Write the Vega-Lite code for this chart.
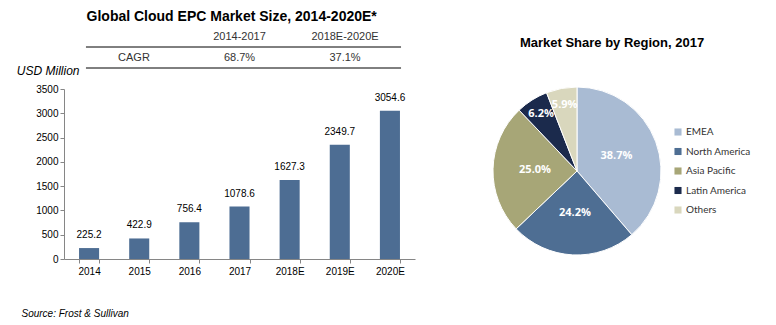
{
  "$schema": "https://vega.github.io/schema/vega-lite/v6.json",
  "padding": {"left": 16, "top": 10, "right": 5, "bottom": 2},
  "background": "#ffffff",
  "config": {"view": {"stroke": null}, "font": "Liberation Sans"},
  "center": true,
  "spacing": 76,
  "resolve": {"legend": {"color": "independent"}},
  "hconcat": [
    {
      "title": {"text": "Global Cloud EPC Market Size, 2014-2020E*", "fontSize": 14, "fontWeight": "bold", "color": "#000000", "anchor": "middle", "dx": 16, "offset": 2},
      "spacing": -5,
      "vconcat": [
        {
          "width": 351,
          "height": 42,
          "data": {"values": [
            {"row": "head", "col": "c1", "text": "2014-2017"},
            {"row": "head", "col": "c2", "text": "2018E-2020E"},
            {"row": "cagr", "col": "c0", "text": "CAGR"},
            {"row": "cagr", "col": "c1", "text": "68.7%"},
            {"row": "cagr", "col": "c2", "text": "37.1%"}
          ]},
          "encoding": {
            "x": {"field": "col", "type": "nominal", "scale": {"type": "point", "domain": ["c0", "c1", "c2"], "padding": 0.663}, "axis": null},
            "y": {"field": "row", "type": "nominal", "scale": {"type": "band", "domain": ["head", "cagr"], "paddingInner": 0, "paddingOuter": 0}, "axis": null}
          },
          "layer": [
            {
              "mark": {"type": "text", "fontSize": 11, "color": "#333333", "baseline": "middle"},
              "encoding": {"text": {"field": "text"}}
            },
            {
              "data": {"values": [{"row": "cagr", "from": "c0", "to": "c2"}]},
              "mark": {"type": "rule", "color": "#000000", "strokeWidth": 1, "xOffset": -48, "x2Offset": 56},
              "encoding": {
                "x": {"field": "from", "type": "nominal"},
                "x2": {"field": "to"},
                "y": {"field": "row", "type": "nominal", "bandPosition": 0}
              }
            },
            {
              "data": {"values": [{"row": "cagr", "from": "c0", "to": "c2"}]},
              "mark": {"type": "rule", "color": "#000000", "strokeWidth": 1, "xOffset": -48, "x2Offset": 56},
              "encoding": {
                "x": {"field": "from", "type": "nominal"},
                "x2": {"field": "to"},
                "y": {"field": "row", "type": "nominal", "bandPosition": 1}
              }
            }
          ]
        },
        {
          "width": 351,
          "height": 170,
          "data": {"values": [
            {"year": "2014", "value": 225.2},
            {"year": "2015", "value": 422.9},
            {"year": "2016", "value": 756.4},
            {"year": "2017", "value": 1078.6},
            {"year": "2018E", "value": 1627.3},
            {"year": "2019E", "value": 2349.7},
            {"year": "2020E", "value": 3054.6}
          ]},
          "encoding": {
            "x": {"field": "year", "type": "ordinal", "scale": {"paddingInner": 0.6, "paddingOuter": 0.3},
              "axis": {"title": "Source: Frost & Sullivan", "titleAlign": "left", "titleAnchor": "start", "titleX": -43, "titleY": 54, "titleBaseline": "middle", "titleFontStyle": "italic", "titleFontWeight": "normal", "titleFontSize": 10, "titleColor": "#000000", "labelAngle": 0, "tickBand": "extent", "domainColor": "#868686", "tickColor": "#868686", "tickSize": 4, "labelFontSize": 10, "labelColor": "#000000", "labelPadding": 3}},
            "y": {"field": "value", "type": "quantitative", "scale": {"domain": [0, 3500], "nice": false},
              "axis": {"values": [0, 500, 1000, 1500, 2000, 2500, 3000, 3500], "format": "d", "grid": false, "title": "USD Million", "titleAngle": 0, "titleAlign": "right", "titleBaseline": "middle", "titleX": 15, "titleY": -18.5, "titleFontStyle": "italic", "titleFontWeight": "normal", "titleFontSize": 12, "titleColor": "#000000", "domainColor": "#868686", "tickColor": "#868686", "tickSize": 4, "labelFontSize": 10, "labelColor": "#000000", "labelPadding": 2}}
          },
          "layer": [
            {"mark": {"type": "bar", "color": "#4d6d93"}},
            {"mark": {"type": "text", "baseline": "bottom", "dy": -8, "fontSize": 10, "color": "#000000"},
              "encoding": {"text": {"field": "value", "type": "quantitative", "format": ".1f"}}}
          ]
        }
      ]
    },
    {
      "width": 168,
      "height": 168,
      "title": {"text": "Market Share by Region, 2017", "fontSize": 13, "fontWeight": "bold", "color": "#000000", "anchor": "middle", "dx": 35, "offset": 35},
      "data": {"values": [
        {"region": "EMEA", "share": 0.387, "rank": 1},
        {"region": "North America", "share": 0.242, "rank": 2},
        {"region": "Asia Pacific", "share": 0.25, "rank": 3},
        {"region": "Latin America", "share": 0.062, "rank": 4},
        {"region": "Others", "share": 0.059, "rank": 5}
      ]},
      "encoding": {
        "theta": {"field": "share", "type": "quantitative", "stack": true},
        "order": {"field": "rank", "type": "quantitative"}
      },
      "layer": [
        {
          "mark": {"type": "arc", "outerRadius": 84, "stroke": "#ffffff", "strokeWidth": 1},
          "encoding": {
            "color": {"field": "region", "type": "nominal",
              "scale": {"domain": ["EMEA", "North America", "Asia Pacific", "Latin America", "Others"], "range": ["#a9bbd3", "#4e6e93", "#a7a677", "#1b2a4c", "#d9d7bd"]},
              "legend": {"title": null, "orient": "none", "legendX": 180, "legendY": 40, "symbolType": "square", "symbolSize": 50, "symbolStrokeWidth": 0, "labelFontSize": 10, "labelFont": "Lato", "labelColor": "#333333", "rowPadding": 9.5, "labelOffset": 3, "padding": 0}}
          }
        },
        {
          "mark": {"type": "text", "radius": 42, "fill": "#ffffff", "font": "Open Sans", "fontWeight": "bold", "fontSize": 11},
          "encoding": {"text": {"condition": {"test": "datum.share > 0.1", "field": "share", "type": "quantitative", "format": ".1%"}, "value": ""}}
        },
        {
          "mark": {"type": "text", "radius": 67, "fill": "#ffffff", "font": "Open Sans", "fontWeight": "bold", "fontSize": 11},
          "encoding": {"text": {"condition": {"test": "datum.share <= 0.1", "field": "share", "type": "quantitative", "format": ".1%"}, "value": ""}}
        }
      ]
    }
  ]
}
